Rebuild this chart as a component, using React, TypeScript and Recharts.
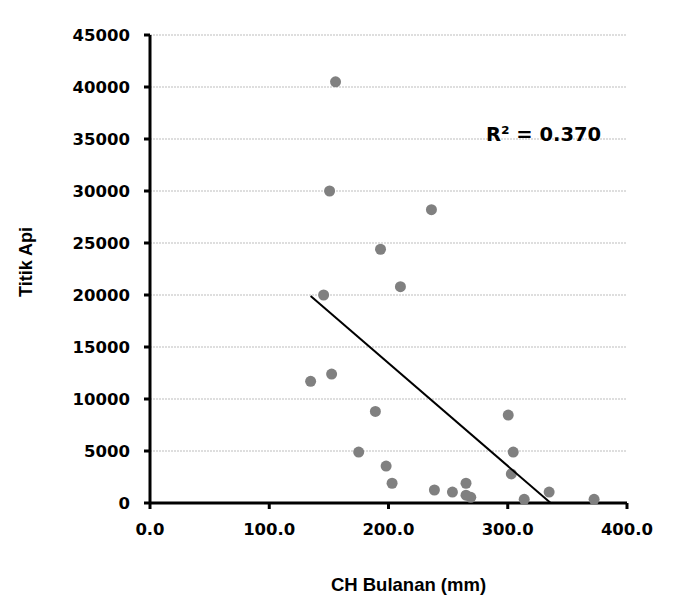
import React from "react";
import {
  CartesianGrid,
  Label,
  ReferenceDot,
  Scatter,
  ScatterChart,
  XAxis,
  YAxis,
} from "recharts";

// monthly rainfall (mm) vs hotspot count
const rainfall = [
  155.6, 150.6, 193.3, 236.0, 210.0, 145.6, 134.7, 152.3, 189.0, 175.0, 198.0,
  203.0, 238.5, 253.6, 265.0, 265.0, 269.0, 300.4, 304.6, 303.0, 313.8, 334.7,
  372.4,
];
const hotspots = [
  40500, 30000, 24400, 28200, 20800, 20000, 11700, 12400, 8800, 4900, 3550,
  1900, 1250, 1050, 1900, 750, 550, 8450, 4900, 2800, 350, 1050, 350,
];

const trendX = [134.7, 336.0];
const trendY = [19900, 0];

const xTicks = [0, 100, 200, 300, 400];
const yTicks = [0, 5000, 10000, 15000, 20000, 25000, 30000, 35000, 40000, 45000];

const points = rainfall.map((x, i) => ({ x, y: hotspots[i] }));
const trend = trendX.map((x, i) => ({ x, y: trendY[i] }));

const tickFont = {
  fontFamily: "'DejaVu Sans', Verdana, sans-serif",
  fontWeight: 700,
  fontSize: 16.5,
  fill: "#000",
};

const titleFont = "'Liberation Sans', Arial, sans-serif";

export default function App() {
  return (
    <div style={{ position: "relative", width: 689, height: 611 }}>
      <style>{`body { margin: 0; background: #fff; }`}</style>
      <ScatterChart
        width={689}
        height={611}
        margin={{ top: 35, right: 62, bottom: 0, left: 0 }}
      >
        <CartesianGrid
          horizontal
          vertical={false}
          stroke="#bdbdbd"
          strokeDasharray="2 1"
        />
        <XAxis
          type="number"
          dataKey="x"
          domain={[0, 400]}
          ticks={xTicks}
          tickFormatter={(v: number) => v.toFixed(1)}
          stroke="#000"
          strokeWidth={3}
          tickSize={6}
          tickMargin={14}
          tick={tickFont}
          height={108}
        >
          <Label
            value="CH Bulanan (mm)"
            position="insideBottom"
            offset={20}
            dx={20}
            style={{
              fontFamily: titleFont,
              fontWeight: 700,
              fontSize: 18.5,
              fill: "#000",
            }}
          />
        </XAxis>
        <YAxis
          type="number"
          dataKey="y"
          domain={[0, 45000]}
          ticks={yTicks}
          stroke="#000"
          strokeWidth={3}
          tickSize={6}
          tickMargin={14}
          tick={tickFont}
          width={150}
        >
          <Label
            value="Titik Api"
            angle={-90}
            position="insideLeft"
            offset={26}
            dy={-7}
            style={{
              fontFamily: titleFont,
              fontWeight: 700,
              fontSize: 18,
              fill: "#000",
              textAnchor: "middle",
            }}
          />
        </YAxis>
        <Scatter
          data={points}
          fill="#808080"
          shape={(p: any) => (
            <circle cx={p.cx} cy={p.cy} r={5.5} fill="#808080" />
          )}
          isAnimationActive={false}
        />
        <Scatter
          data={trend}
          line={{ stroke: "#000", strokeWidth: 2 }}
          shape={() => <g />}
          isAnimationActive={false}
        />
        <ReferenceDot x={330} y={35500} r={0} stroke="none" fill="none">
          <Label
            value="R² = 0.370"
            position="center"
            style={{
              fontFamily: tickFont.fontFamily,
              fontWeight: 700,
              fontSize: 19.5,
              fill: "#000",
            }}
          />
        </ReferenceDot>
      </ScatterChart>
    </div>
  );
}
